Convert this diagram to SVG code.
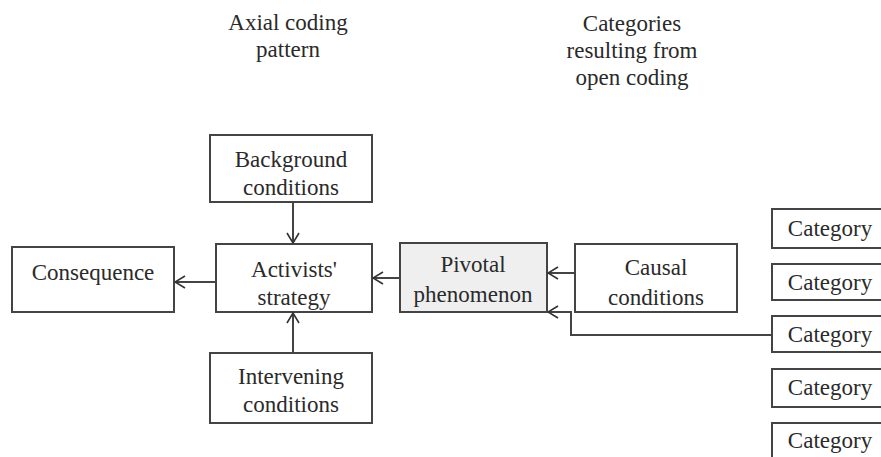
<svg xmlns="http://www.w3.org/2000/svg" width="881" height="457" viewBox="0 0 881 457">
  <defs>
    <marker id="arrow" viewBox="0 0 12 14" refX="11" refY="7" markerWidth="12" markerHeight="14" markerUnits="userSpaceOnUse" orient="auto">
      <path d="M1,1 L11,7 L1,13" fill="none" stroke="#333" stroke-width="1.6"/>
    </marker>
    <style>
      .box { fill: #ffffff; stroke: #444; stroke-width: 2; }
      .grey { fill: #efefef; }
      .lbl { font-family: "Liberation Serif", "Times New Roman", serif; font-size: 23px; fill: #2a2a2a; text-anchor: middle; }
      .edge { fill: none; stroke: #444; stroke-width: 2; }
    </style>
  </defs>
  <rect width="881" height="457" fill="#ffffff"/>

  <!-- column headings -->
  <g id="heading-axial">
    <text class="lbl" x="288" y="30">Axial coding</text>
    <text class="lbl" x="288" y="57">pattern</text>
  </g>
  <g id="heading-open">
    <text class="lbl" x="632" y="31">Categories</text>
    <text class="lbl" x="632" y="58">resulting from</text>
    <text class="lbl" x="632" y="85">open coding</text>
  </g>

  <!-- axial coding nodes -->
  <g id="background">
    <rect class="box" x="210" y="135" width="162" height="67"/>
    <text class="lbl" x="291" y="167">Background</text>
    <text class="lbl" x="291" y="195">conditions</text>
  </g>
  <g id="strategy">
    <rect class="box" x="216" y="244" width="156" height="68"/>
    <text class="lbl" x="294" y="277">Activists'</text>
    <text class="lbl" x="294" y="305">strategy</text>
  </g>
  <g id="consequence">
    <rect class="box" x="12" y="247" width="162" height="65"/>
    <text class="lbl" x="93" y="280">Consequence</text>
  </g>
  <g id="intervening">
    <rect class="box" x="210" y="353" width="162" height="70"/>
    <text class="lbl" x="291" y="384">Intervening</text>
    <text class="lbl" x="291" y="412">conditions</text>
  </g>
  <g id="pivotal">
    <rect class="box grey" x="400" y="243" width="147" height="69"/>
    <text class="lbl" x="473" y="272">Pivotal</text>
    <text class="lbl" x="473" y="302">phenomenon</text>
  </g>
  <g id="causal">
    <rect class="box" x="575" y="244" width="162" height="68"/>
    <text class="lbl" x="656" y="275">Causal</text>
    <text class="lbl" x="656" y="305">conditions</text>
  </g>

  <!-- open coding categories -->
  <g id="category-1">
    <rect class="box" x="772" y="209" width="115" height="39"/>
    <text class="lbl" x="830" y="236">Category</text>
  </g>
  <g id="category-2">
    <rect class="box" x="772" y="264" width="115" height="36"/>
    <text class="lbl" x="830" y="290">Category</text>
  </g>
  <g id="category-3">
    <rect class="box" x="772" y="316" width="115" height="36"/>
    <text class="lbl" x="830" y="342">Category</text>
  </g>
  <g id="category-4">
    <rect class="box" x="772" y="369" width="115" height="38"/>
    <text class="lbl" x="830" y="395">Category</text>
  </g>
  <g id="category-5">
    <rect class="box" x="772" y="423" width="115" height="40"/>
    <text class="lbl" x="830" y="448">Category</text>
  </g>

  <!-- connectors -->
  <g id="connectors">
    <path class="edge" d="M293,202 L293,243" marker-end="url(#arrow)"/>
    <path class="edge" d="M293,353 L293,313" marker-end="url(#arrow)"/>
    <path class="edge" d="M216,282 L175,282" marker-end="url(#arrow)"/>
    <path class="edge" d="M400,278 L373,278" marker-end="url(#arrow)"/>
    <path class="edge" d="M575,273 L548,273" marker-end="url(#arrow)"/>
    <path class="edge" d="M772,335 L571,335 L571,312 L548,312" marker-end="url(#arrow)"/>
  </g>
</svg>
